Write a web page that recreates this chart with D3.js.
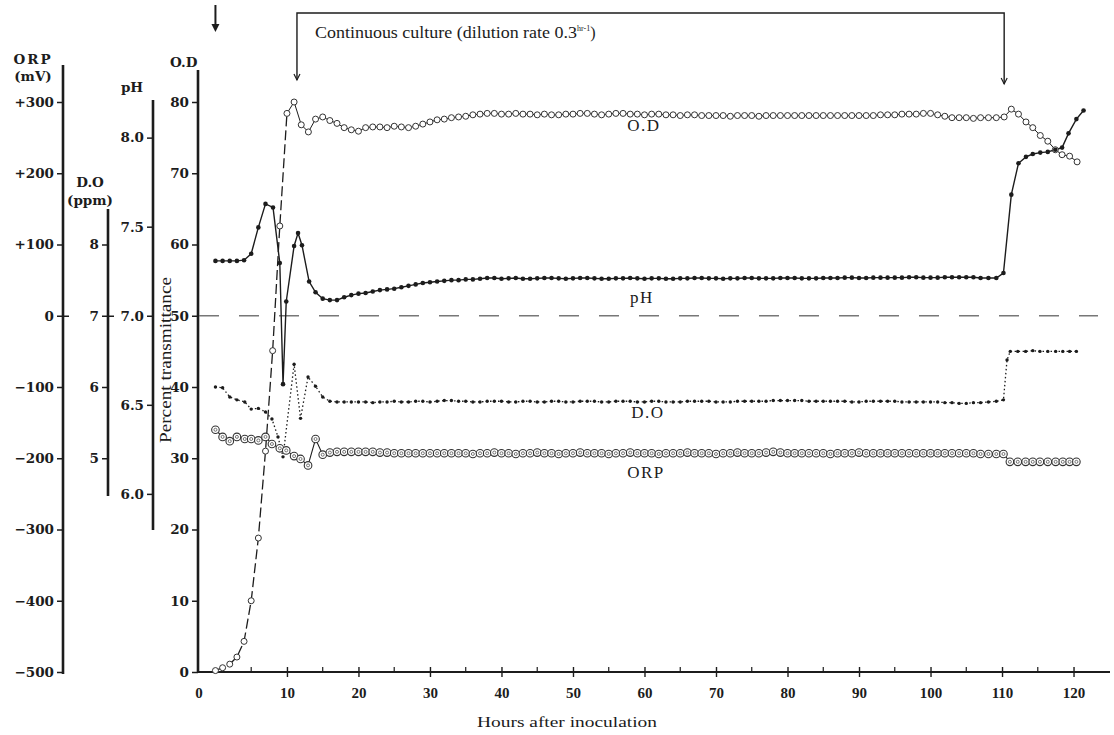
<!DOCTYPE html>
<html>
<head>
<meta charset="utf-8">
<script src="https://cdn.jsdelivr.net/npm/d3@7"></script>
<style>
  body { margin: 0; background: #fff; }
  svg text { font-family: "Liberation Serif", "DejaVu Serif", serif; fill: #1c1c1c; }
  .tick text { font-size: 15px; font-weight: bold; }
  .yax .tick text { font-family: "DejaVu Serif", serif; font-size: 13.5px; }
  .axlabel { font-family: "DejaVu Serif", serif; font-size: 13.5px; font-weight: bold; }
</style>
</head>
<body>
<div id="chart"></div>
<script>
// ---- data ----
// O.D (percent transmittance)
const odHours = [0,1,2,3,4,5,6,7,8,9,10,11,12,13,14,15,16,17,18,19,20,21,22,23,24,25,26,27,28,29,30,31,32,33,34,35,36,37,38,39,40,41,42,43,44,45,46,47,48,49,50,51,52,53,54,55,56,57,58,59,60,61,62,63,64,65,66,67,68,69,70,71,72,73,74,75,76,77,78,79,80,81,82,83,84,85,86,87,88,89,90,91,92,93,94,95,96,97,98,99,100,101,102,103,104,105,106,107,108.1,109.2,110.3,111.3,112.3,113.35,114.3,115.35,116.4,117.45,118.4,119.45,120.5];
const odValues = [0.2,0.6,1.1,2.1,4.3,10.0,18.8,31.0,45.1,62.6,
  78.4,80.0,76.8,75.8,77.6,77.9,77.4,77.0,76.4,76.1,
  75.9,76.4,76.5,76.5,76.4,76.6,76.5,76.4,76.6,76.9,
  77.2,77.5,77.6,77.8,77.9,78.0,78.2,78.3,78.4,78.4,
  78.3,78.3,78.4,78.3,78.3,78.2,78.3,78.2,78.2,78.3,
  78.3,78.4,78.4,78.3,78.2,78.3,78.4,78.4,78.3,78.3,
  78.2,78.3,78.3,78.2,78.2,78.1,78.2,78.2,78.1,78.1,
  78.1,78.1,78.0,78.1,78.1,78.1,78.0,78.1,78.1,78.1,
  78.1,78.1,78.1,78.1,78.1,78.1,78.1,78.1,78.1,78.1,
  78.1,78.1,78.1,78.2,78.2,78.2,78.3,78.3,78.3,78.4,
  78.4,78.2,78.0,77.8,77.8,77.8,77.7,
  77.8,77.8,77.8,77.9,79.0,78.3,77.2,76.4,75.3,74.5,73.3,72.6,72.4,71.6];
const odDashedUntil = 10; // batch phase drawn with a long-dash line

// pH
const phHours = [0,1,2,3,4,5,6,7,8.05,9,9.45,9.9,11,11.55,12.1,13.1,
  14,15,16,17,18,19,20,21,22,23,24,25,26,27,28,29,30,31,32,33,34,35,36,37,38,39,40,41,42,43,44,45,46,47,48,49,50,51,52,53,54,55,56,57,58,59,60,61,62,63,64,65,66,67,68,69,70,71,72,73,74,75,76,77,78,79,80,81,82,83,84,85,86,87,88,89,90,91,92,93,94,95,96,97,98,99,100,101,102,103,104,105,106,
  107,108.1,109.2,110.2,111.3,112.3,113.35,114.3,115.35,116.4,117.45,118.4,119.3,120.4,121.4];
const phValues = [7.308,7.308,7.308,7.308,7.312,7.348,7.496,7.628,7.608,7.296,6.616,7.08,7.392,7.464,7.396,7.192,
  7.132,7.096,7.088,7.088,7.104,7.116,7.124,7.128,7.136,7.144,
  7.148,7.152,7.16,7.168,7.176,7.184,7.188,7.192,7.196,7.2,
  7.2,7.204,7.204,7.208,7.212,7.212,7.208,7.21,7.212,7.208,
  7.208,7.21,7.212,7.212,7.21,7.208,7.21,7.212,7.212,7.21,
  7.208,7.208,7.21,7.21,7.212,7.21,7.208,7.21,7.21,7.208,
  7.208,7.21,7.21,7.212,7.212,7.21,7.21,7.208,7.21,7.21,
  7.212,7.212,7.21,7.21,7.21,7.212,7.212,7.212,7.21,7.21,
  7.21,7.212,7.212,7.212,7.214,7.214,7.212,7.212,7.214,7.214,
  7.214,7.214,7.214,7.216,7.216,7.214,7.214,7.214,7.216,7.216,
  7.216,7.216,7.216,
  7.212,7.212,7.212,7.24,7.68,7.856,7.892,7.908,7.916,7.92,7.932,7.944,8.024,8.104,8.152];

// D.O (ppm)
const doHours = [0,1,2,3,4.1,5,6,7,7.9,8.75,9.45,11,11.9,12.95,
  14,15,16,17,18,19,20,21,22,23,24,25,26,27,28,29,30,31,32,33,34,35,36,37,38,39,40,41,42,43,44,45,46,47,48,49,50,51,52,53,54,55,56,57,58,59,60,61,62,63,64,65,66,67,68,69,70,71,72,73,74,75,76,77,78,79,80,81,82,83,84,85,86,87,88,89,90,91,92,93,94,95,96,97,98,99,100,101,102,103,104,105,106,
  107,108.1,109.2,110.2,110.7,111.15,112.2,113.3,114.3,115.3,116.4,117.5,118.5,119.45,120.4];
const doValues = [6.00,5.99,5.86,5.82,5.79,5.69,5.70,5.65,5.55,5.30,5.02,6.32,5.56,6.14,
  6.01,5.86,5.80,5.79,5.79,5.79,5.79,5.79,5.78,5.79,
  5.79,5.80,5.79,5.79,5.80,5.80,5.79,5.80,5.81,5.81,
  5.80,5.80,5.79,5.79,5.80,5.80,5.80,5.79,5.79,5.80,
  5.80,5.79,5.79,5.80,5.80,5.79,5.79,5.80,5.80,5.80,
  5.79,5.79,5.80,5.80,5.80,5.79,5.79,5.80,5.80,5.79,
  5.79,5.79,5.80,5.80,5.80,5.80,5.79,5.79,5.79,5.80,
  5.80,5.80,5.80,5.80,5.81,5.81,5.81,5.81,5.81,5.80,
  5.80,5.80,5.80,5.80,5.80,5.79,5.79,5.80,5.80,5.80,
  5.80,5.80,5.79,5.79,5.79,5.79,5.79,5.79,5.78,5.78,
  5.77,5.77,5.78,
  5.78,5.79,5.80,5.82,6.38,6.50,6.50,6.50,6.51,6.50,6.50,6.50,6.50,6.50,6.50];

// ORP (mV)
const orpHours = [0,1,2,3,4.1,5,6,7,7.9,9,9.9,11,11.9,12.95,
  14,15,16,17,18,19,20,21,22,23,24,25,26,27,28,29,30,31,32,33,34,35,36,37,38,39,40,41,42,43,44,45,46,47,48,49,50,51,52,53,54,55,56,57,58,59,60,61,62,63,64,65,66,67,68,69,70,71,72,73,74,75,76,77,78,79,80,81,82,83,84,85,86,87,88,89,90,91,92,93,94,95,96,97,98,99,100,101,102,103,104,105,106,
  107,108.1,109.2,110.2,111.1,112.2,113.3,114.3,115.3,116.4,117.5,118.5,119.45,120.4];
const orpValues = [-160,-170,-176,-170,-173,-173,-175,-170,-180,-186,-189,-197,-201,-210,
  -173,-195,-192,-191,-191,-191,-191,-191,-191,-192,
  -192,-193,-193,-193,-193,-193,-193,-193,-193,-193,
  -193,-193,-194,-193,-193,-192,-193,-193,-194,-193,
  -193,-192,-193,-193,-194,-193,-193,-192,-193,-193,
  -193,-194,-193,-193,-192,-193,-193,-193,-194,-193,
  -193,-193,-192,-193,-193,-193,-194,-193,-193,-192,
  -193,-193,-193,-192,-191,-192,-193,-193,-193,-193,
  -193,-193,-194,-193,-193,-193,-192,-193,-193,-193,
  -193,-193,-193,-193,-193,-193,-193,-193,-193,-193,
  -193,-193,-193,
  -194,-194,-194,-194,-205,-205,-205,-205,-205,-205,-205,-205,-205,-205];

// axis ticks
const hourTicks = [10,20,30,40,50,60,70,80,90,100,110,120];
const hourMinorTicks = [5,15,25,35,45,55,65,75,85,95,105,115];
const pctTicks = [0,10,20,30,40,50,60,70,80];
const phTicks = [6.0,6.5,7.0,7.5,8.0];
const doTicks = [5,6,7,8];
const orpTicks = [-500,-400,-300,-200,-100,0,100,200,300];
const cultureStart = 11.4, cultureEnd = 110.3;

// ---- layout ----
const width = 1114, height = 735;
const svg = d3.select("#chart").append("svg")
    .attr("width", width)
    .attr("height", height);

const x = d3.scaleLinear().domain([-2.3, 125.1]).range([199, 1110]);
const yPct = d3.scaleLinear().domain([0, 80]).range([672, 102]);
const yPh = d3.scaleLinear().domain([6, 8]).range([yPct(25), yPct(75)]);
const yDo = d3.scaleLinear().domain([5, 8]).range([yPct(30), yPct(60)]);
const yOrp = d3.scaleLinear().domain([-500, 300]).range([yPct(0), yPct(80)]);

const ink = "#1c1c1c";

// helper for the stacked left axes
function leftAxis(xPos, scale, ticks, fmt, top, bottom, crossValue) {
    const g = svg.append("g").attr("class", "yax").attr("transform", `translate(${xPos},0)`);
    g.call(d3.axisLeft(scale).tickValues(ticks).tickFormat(fmt).tickSize(6).tickPadding(3));
    g.select(".domain").remove();
    g.selectAll(".tick line").attr("stroke", ink).attr("stroke-width", 1.5)
        .attr("x1", -6)
        .attr("x2", d => d === crossValue ? 6 : 0);
    g.append("line")
        .attr("x1", 0).attr("x2", 0)
        .attr("y1", top).attr("y2", bottom)
        .attr("stroke", ink).attr("stroke-width", 2.6);
    return g;
}

// ORP axis
leftAxis(63, yOrp, orpTicks, d => d > 0 ? "+" + d : (d < 0 ? "\u2212" + (-d) : "0"), 65, 674, 0);
svg.append("text").attr("class", "axlabel").attr("x", 33).attr("y", 64).attr("text-anchor", "middle")
    .style("letter-spacing", "2px").text("ORP");
svg.append("text").attr("class", "axlabel").attr("x", 33).attr("y", 81).attr("text-anchor", "middle")
    .text("(mV)");

// D.O axis
leftAxis(108, yDo, doTicks, d3.format("d"), 209, 496, 7);
svg.append("text").attr("class", "axlabel").attr("x", 90).attr("y", 187).attr("text-anchor", "middle")
    .text("D.O");
svg.append("text").attr("class", "axlabel").attr("x", 90).attr("y", 205).attr("text-anchor", "middle")
    .text("(ppm)");

// pH axis
leftAxis(153, yPh, phTicks, d3.format(".1f"), 100, 530, null);
svg.append("text").attr("class", "axlabel").attr("x", 132).attr("y", 92).attr("text-anchor", "middle")
    .text("pH");

// O.D / percent transmittance axis
leftAxis(198, yPct, pctTicks, d3.format("d"), 70, 673, null);
svg.append("text").attr("class", "axlabel").attr("x", 170).attr("y", 67).text("O.D");
svg.append("text")
    .attr("transform", "translate(171,360) rotate(-90)")
    .attr("text-anchor", "middle")
    .attr("textLength", 166).attr("lengthAdjust", "spacingAndGlyphs")
    .style("font-size", "16px")
    .text("Percent transmittance");

// X axis
const xg = svg.append("g").attr("transform", `translate(0,${yPct(0)})`);
xg.call(d3.axisBottom(x).tickValues(hourTicks).tickFormat(d3.format("d")).tickSize(5).tickPadding(10));
xg.select(".domain").remove();
xg.selectAll(".tick line").attr("y1", -5).attr("y2", 5).attr("stroke", ink).attr("stroke-width", 1.4);
xg.append("line").attr("x1", 198).attr("x2", 1110).attr("y1", 0).attr("y2", 0)
    .attr("stroke", ink).attr("stroke-width", 2.2);
xg.selectAll(".minor").data(hourMinorTicks).enter().append("line")
    .attr("x1", d => x(d)).attr("x2", d => x(d)).attr("y1", -5).attr("y2", 0)
    .attr("stroke", ink).attr("stroke-width", 1.2);
xg.append("text").attr("x", x.range()[0]).attr("y", 26).attr("text-anchor", "middle")
    .style("font-size", "15px").style("font-weight", "bold").text("0");
svg.append("text").attr("x", 567).attr("y", 727).attr("text-anchor", "middle")
    .attr("textLength", 180).attr("lengthAdjust", "spacingAndGlyphs")
    .style("font-size", "15px").text("Hours after inoculation");

// reference line at 50 %
svg.append("line")
    .attr("x1", x.range()[0]).attr("x2", 1098)
    .attr("y1", yPct(50)).attr("y2", yPct(50))
    .attr("stroke", "#777").attr("stroke-width", 1.4)
    .attr("stroke-dasharray", "20,20");

// ---- series ----
const od = odHours.map((h, i) => ({ h, v: odValues[i] }));
const ph = phHours.map((h, i) => ({ h, v: phValues[i] }));
const dox = doHours.map((h, i) => ({ h, v: doValues[i] }));
const orp = orpHours.map((h, i) => ({ h, v: orpValues[i] }));

const lineFor = scale => d3.line().x(d => x(d.h)).y(d => scale(d.v));

// O.D: dashed during batch growth, solid afterwards
svg.append("path").datum(od.filter(d => d.h <= odDashedUntil))
    .attr("d", lineFor(yPct)).attr("fill", "none")
    .attr("stroke", ink).attr("stroke-width", 1.3).attr("stroke-dasharray", "10,4");
svg.append("path").datum(od.filter(d => d.h >= odDashedUntil))
    .attr("d", lineFor(yPct)).attr("fill", "none")
    .attr("stroke", ink).attr("stroke-width", 1);

// pH solid line
svg.append("path").datum(ph)
    .attr("d", lineFor(yPh)).attr("fill", "none")
    .attr("stroke", ink).attr("stroke-width", 1.4);

// D.O dotted line
svg.append("path").datum(dox)
    .attr("d", lineFor(yDo)).attr("fill", "none")
    .attr("stroke", ink).attr("stroke-width", 1.3).attr("stroke-dasharray", "1.5,2.5");

// ORP solid line
svg.append("path").datum(orp)
    .attr("d", lineFor(yOrp)).attr("fill", "none")
    .attr("stroke", ink).attr("stroke-width", 1.1);

// markers
svg.append("g").selectAll("circle").data(orp).enter().append("circle")
    .attr("cx", d => x(d.h)).attr("cy", d => yOrp(d.v)).attr("r", 3.8)
    .attr("fill", "#fff").attr("stroke", "#333").attr("stroke-width", 1.1);
svg.append("g").selectAll("circle").data(orp).enter().append("circle")
    .attr("cx", d => x(d.h)).attr("cy", d => yOrp(d.v)).attr("r", 1.5)
    .attr("fill", "none").attr("stroke", "#555").attr("stroke-width", 0.8);

svg.append("g").selectAll("circle").data(dox).enter().append("circle")
    .attr("cx", d => x(d.h)).attr("cy", d => yDo(d.v)).attr("r", 1.7)
    .attr("fill", ink);

svg.append("g").selectAll("circle").data(od).enter().append("circle")
    .attr("cx", d => x(d.h)).attr("cy", d => yPct(d.v)).attr("r", 3)
    .attr("fill", "#fff").attr("stroke", "#333").attr("stroke-width", 1);

svg.append("g").selectAll("circle").data(ph).enter().append("circle")
    .attr("cx", d => x(d.h)).attr("cy", d => yPh(d.v)).attr("r", 2.3)
    .attr("fill", ink);

// series labels
const labelStyle = sel => sel.attr("text-anchor", "middle")
    .style("font-size", "17px").style("letter-spacing", "1.5px");
svg.append("text").attr("x", 644).attr("y", 131).call(labelStyle).text("O.D");
svg.append("text").attr("x", 642).attr("y", 303).call(labelStyle).text("pH");
svg.append("text").attr("x", 648).attr("y", 418).call(labelStyle).text("D.O");
svg.append("text").attr("x", 646).attr("y", 478).call(labelStyle).text("ORP");

// ---- top annotations ----
svg.append("line").attr("x1", x(0)).attr("x2", x(0)).attr("y1", 5).attr("y2", 26)
    .attr("stroke", ink).attr("stroke-width", 2);
svg.append("path")
    .attr("d", `M${x(0) - 4},24 L${x(0) + 4},24 L${x(0)},32 Z`)
    .attr("fill", ink);

svg.append("path")
    .attr("d", `M${x(cultureStart)},80 L${x(cultureStart)},13 L${x(cultureEnd)},13 L${x(cultureEnd)},84`)
    .attr("fill", "none").attr("stroke", ink).attr("stroke-width", 1.4);
[[cultureStart, 80], [cultureEnd, 84]].forEach(([h, yEnd]) => {
    svg.append("path")
        .attr("d", `M${x(h) - 3},${yEnd - 6} L${x(h)},${yEnd} L${x(h) + 3},${yEnd - 6}`)
        .attr("fill", "none").attr("stroke", ink).attr("stroke-width", 1.2);
});

const note = svg.append("text").attr("x", 315).attr("y", 38)
    .style("font-size", "16px");
note.append("tspan").attr("textLength", 262).attr("lengthAdjust", "spacingAndGlyphs")
    .text("Continuous culture (dilution rate 0.3");
note.append("tspan").attr("dy", -7).style("font-size", "8px").text("hr-1");
note.append("tspan").attr("dy", 7).text(")");
</script>
</body>
</html>
